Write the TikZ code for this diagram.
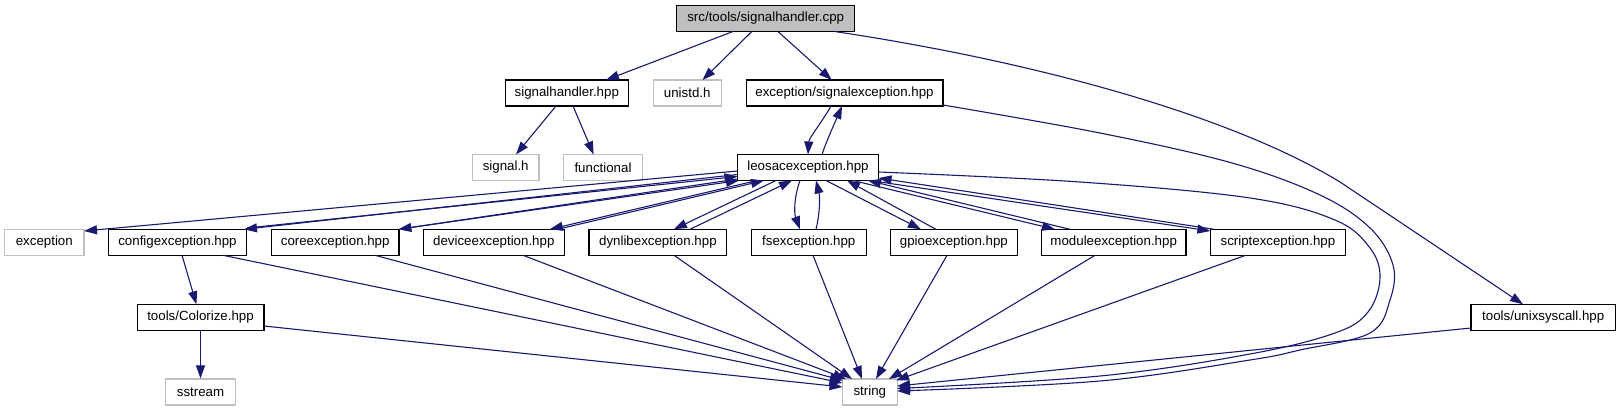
\documentclass[tikz,border=0pt]{standalone}
\usepackage{fontspec}
\setmainfont{Liberation Sans}
\usetikzlibrary{arrows.meta,calc}
\definecolor{edgeblue}{HTML}{191970}
\definecolor{extgrey}{HTML}{BFBFBF}
\begin{document}
\begin{tikzpicture}[x=1pt,y=-1pt,
  box/.style={draw=black, line width=1.2pt, minimum height=26pt, inner sep=0pt, fill=white, font=\fontsize{13.3}{15}\selectfont},
  ext/.style={box, draw=extgrey},
  e/.style={draw=edgeblue, line width=1.1pt, -{Triangle[length=13pt,width=9pt]}}
]
\useasboundingbox (0,0) rectangle (1621,411);
% row 0
\node[box, fill=extgrey, minimum width=177.8pt] (root) at (765.7,18.5) {src/tools/signalhandler.cpp};
% row 1
\node[box, minimum width=122.8pt] (sh) at (566.8,93) {signalhandler.hpp};
\node[ext, minimum width=67.9pt] (unistd) at (687.2,93) {unistd.h};
\node[box, minimum width=196.8pt] (sigexc) at (844.5,93) {exception/signalexception.hpp};
% row 2
\node[ext, minimum width=66.4pt] (signalh) at (505.7,167.5) {signal.h};
\node[ext, minimum width=78.9pt] (functional) at (603,167.5) {functional};
\node[box, minimum width=141pt] (leosac) at (808,167.5) {leosacexception.hpp};
% row 3
\node[ext, minimum width=79.3pt] (exception) at (44.3,242.3) {exception};
\node[box, minimum width=138.6pt] (config) at (177.5,242.3) {configexception.hpp};
\node[box, minimum width=127.5pt] (core) at (335.2,242.3) {coreexception.hpp};
\node[box, minimum width=141.1pt] (device) at (493.8,242.3) {deviceexception.hpp};
\node[box, minimum width=137.9pt] (dynlib) at (657.9,242.3) {dynlibexception.hpp};
\node[box, minimum width=114.7pt] (fs) at (808.8,242.3) {fsexception.hpp};
\node[box, minimum width=126.4pt] (gpio) at (953.9,242.3) {gpioexception.hpp};
\node[box, minimum width=144.5pt] (module) at (1113.7,242.3) {moduleexception.hpp};
\node[box, minimum width=135pt] (script) at (1277.9,242.3) {scriptexception.hpp};
% row 4
\node[box, minimum width=126.8pt] (colorize) at (200.5,317.3) {tools/Colorize.hpp};
\node[box, minimum width=144.3pt] (unix) at (1543.2,317.3) {tools/unixsyscall.hpp};
% row 5
\node[ext, minimum width=70.3pt] (sstream) at (200.5,392) {sstream};
\node[ext, minimum width=54.6pt] (string) at (869.8,392) {string};

% root edges
\draw[e] ($(root)+(-32.7,13)$) -- ($(sh)+(39.2,-13)$);
\draw[e] ($(root)+(-13.9,13)$) -- ($(unistd)+(15.3,-13)$);
\draw[e] ($(root)+(12.2,13)$) -- ($(sigexc)+(-12.7,-13)$);
\draw[e] ($(root)+(68.9,13)$) .. controls (1034.6,61.5) and (1230,115) .. (1340,182) -- ($(unix)+(-20.2,-13)$);
% signalhandler
\draw[e] ($(sh)+(-10.8,13)$) -- ($(signalh)+(10.3,-13)$);
\draw[e] ($(sh)+(6.2,13)$) -- ($(functional)+(-9.4,-13)$);
% signalexception <-> leosac
\draw[e] ($(sigexc)+(-13.5,13)$) .. controls (822,122) and (809,138) .. ($(leosac)+(0,-13)$);
\draw[e] ($(leosac)+(14,-13)$) .. controls (826,142) and (836,120) .. ($(sigexc)+(-2.5,13)$);
% long curves to string
\coordinate (se0) at ($(sigexc)+(98.4,12)$);
\coordinate (se1) at ($(string)+(27.3,-1)$);
\draw[e] plot[smooth,tension=0.6] coordinates {(se0) (1100,133) (1232,163) (1320,195) (1370,228) (1393,265) (1390,300) (1370,333) (1300,350) (1250,360) (1100,381) (se1)};
\coordinate (ls0) at ($(leosac)+(70.6,4.5)$);
\coordinate (ls1) at ($(string)+(27.3,-3.5)$);
\draw[e] plot[smooth,tension=0.6] coordinates {(ls0) (1080,182) (1250,198) (1335,220) (1370,248) (1380,278) (1368,312) (1335,333) (1250,354) (1100,376) (ls1)};
% leosac -> exception
\draw[e] ($(leosac)+(-70.5,3.5)$) -- ($(exception)+(39.7,-11.3)$);
% config pair
\draw[e] ($(leosac)+(-70.5,7)$) -- ($(config)+(66.5,-13)$);
\draw[e] ($(config)+(69.5,-14.3)$) -- ($(leosac)+(-70.5,9)$);
% core pair
\draw[e] ($(leosac)+(-70.5,11.5)$) -- ($(core)+(63.2,-13)$);
\draw[e] ($(core)+(68.8,-13.8)$) -- ($(leosac)+(-69,13)$);
% device pair
\draw[e] ($(leosac)+(-51,13)$) -- ($(device)+(56,-13)$);
\draw[e] ($(device)+(64,-13)$) -- ($(leosac)+(-44,13)$);
% dynlib pair
\draw[e] ($(leosac)+(-32,13)$) -- ($(dynlib)+(16,-13)$);
\draw[e] ($(dynlib)+(32,-13)$) -- ($(leosac)+(-16,13)$);
% fs pair
\draw[e] ($(leosac)+(-8,13)$) .. controls (794,197) and (794,213) .. ($(fs)+(-8.8,-13)$);
\draw[e] ($(fs)+(7.2,-13)$) .. controls (820,213) and (820,197) .. ($(leosac)+(8,13)$);
% gpio pair
\draw[e] ($(leosac)+(18,13)$) -- ($(gpio)+(-33,-13)$);
\draw[e] ($(gpio)+(-18,-13)$) -- ($(leosac)+(39,13)$);
% module pair
\draw[e] ($(leosac)+(45,13)$) -- ($(module)+(-58.7,-13)$);
\draw[e] ($(module)+(-43.7,-13)$) -- ($(leosac)+(60,13)$);
% script pair
\draw[e] ($(leosac)+(62,13)$) -- ($(script)+(-67.5,-11.3)$);
\draw[e] ($(script)+(-63.9,-13)$) -- ($(leosac)+(70.6,10.5)$);
% to string
\draw[e] ($(config)+(45.5,13)$) -- ($(string)+(-27.3,-9)$);
\draw[e] ($(core)+(39.8,13)$) -- ($(string)+(-26.8,-11.5)$);
\draw[e] ($(device)+(29.2,13)$) -- ($(string)+(-23.8,-13)$);
\draw[e] ($(dynlib)+(16.1,13)$) -- ($(string)+(-17.8,-13)$);
\draw[e] ($(fs)+(4.2,13)$) -- ($(string)+(-7.8,-13)$);
\draw[e] ($(gpio)+(-6.9,13)$) -- ($(string)+(6.2,-13)$);
\draw[e] ($(module)+(-18.7,13)$) -- ($(string)+(19.2,-13)$);
\draw[e] ($(script)+(-32.3,13)$) -- ($(string)+(26.2,-11.5)$);
\draw[e] ($(colorize)+(63.4,8.7)$) -- ($(string)+(-27.3,-5)$);
\draw[e] ($(unix)+(-72.2,10.7)$) -- ($(string)+(27.3,-6)$);
% colorize
\draw[e] ($(config)+(4.5,13)$) -- ($(colorize)+(-4.1,-13)$);
\draw[e] (colorize.south) -- (sstream.north);
\end{tikzpicture}
\end{document}
